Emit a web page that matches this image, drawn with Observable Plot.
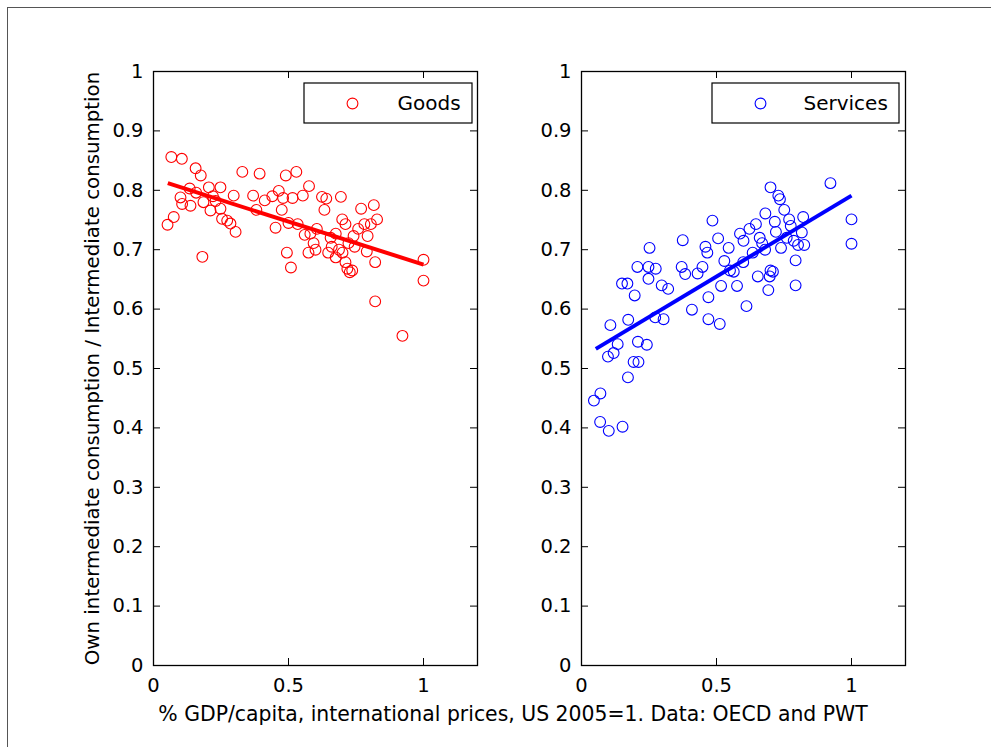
<!DOCTYPE html>
<html><head><meta charset="utf-8">
<script src="https://cdn.jsdelivr.net/npm/d3@7"></script>
<script src="https://cdn.jsdelivr.net/npm/@observablehq/plot@0.6"></script>
<style>
html,body{margin:0;padding:0;background:#fff;overflow:hidden;}
#wrap{position:relative;width:991px;height:747px;overflow:hidden;background:#fff;}
#border{position:absolute;left:7px;top:7px;width:1100px;height:900px;border-left:1.5px solid #555;border-top:1.5px solid #555;pointer-events:none;}
</style></head><body>
<div id="wrap"><div id="chart"></div><div id="border"></div></div>
<script>
const seriesNames = ["Goods", "Services"];
const seriesColors = ["#ff0000", "#0000ff"];
const xTitle = "% GDP/capita, international prices, US 2005=1. Data: OECD and PWT";
const yTitle = "Own intermediate consumption / Intermediate consumption";
const xTicks = [0, 0.5, 1];
const yTicks = [0, 0.1, 0.2, 0.3, 0.4, 0.5, 0.6, 0.7, 0.8, 0.9, 1];

const goodsX = [0.066,0.105,0.156,0.175,0.329,0.393,0.490,0.529,0.075,0.052,0.100,0.106,0.137,0.181,0.205,0.248,0.211,0.248,0.254,0.273,0.285,0.304,0.297,0.158,0.134,0.220,0.185,0.230,0.369,0.381,0.412,0.452,0.475,0.464,0.515,0.553,0.576,0.494,0.509,0.534,0.581,0.574,0.593,0.605,0.624,0.633,0.640,0.647,0.656,0.675,0.675,0.687,0.694,0.699,0.711,0.711,0.718,0.727,0.736,0.722,0.741,0.758,0.769,0.781,0.793,0.805,0.816,0.828,0.821,0.821,0.922,1.000,1.000,0.480,0.440,0.600,0.660,0.700,0.745,0.790,0.560,0.500];
const goodsY = [0.856,0.853,0.837,0.825,0.831,0.828,0.825,0.831,0.755,0.742,0.788,0.777,0.774,0.688,0.805,0.805,0.766,0.769,0.752,0.749,0.744,0.730,0.791,0.796,0.803,0.790,0.780,0.782,0.791,0.767,0.783,0.737,0.767,0.799,0.787,0.791,0.807,0.695,0.670,0.743,0.727,0.695,0.711,0.735,0.789,0.767,0.786,0.695,0.720,0.727,0.687,0.700,0.789,0.751,0.743,0.679,0.668,0.662,0.665,0.711,0.723,0.735,0.769,0.743,0.723,0.743,0.775,0.751,0.679,0.613,0.555,0.683,0.648,0.787,0.790,0.700,0.705,0.695,0.705,0.697,0.725,0.745];

const servicesX = [0.046,0.070,0.069,0.101,0.152,0.172,0.098,0.119,0.134,0.107,0.173,0.150,0.170,0.197,0.207,0.193,0.211,0.209,0.242,0.248,0.252,0.275,0.248,0.297,0.321,0.273,0.304,0.375,0.371,0.384,0.409,0.448,0.459,0.466,0.485,0.470,0.470,0.512,0.506,0.517,0.529,0.545,0.564,0.576,0.587,0.599,0.611,0.622,0.634,0.646,0.653,0.669,0.681,0.692,0.697,0.700,0.709,0.716,0.729,0.739,0.751,0.769,0.786,0.793,0.793,0.802,0.816,0.825,0.821,0.922,1.000,1.000,0.735,0.720,0.660,0.680,0.700,0.550,0.430,0.600,0.775,0.760];
const servicesY = [0.446,0.458,0.410,0.395,0.402,0.485,0.520,0.526,0.541,0.573,0.582,0.643,0.643,0.623,0.671,0.511,0.511,0.545,0.540,0.671,0.703,0.668,0.651,0.640,0.634,0.586,0.583,0.716,0.671,0.659,0.599,0.671,0.705,0.695,0.749,0.620,0.583,0.575,0.719,0.639,0.681,0.703,0.663,0.639,0.727,0.679,0.605,0.735,0.695,0.743,0.655,0.711,0.761,0.632,0.655,0.805,0.663,0.747,0.791,0.703,0.767,0.751,0.715,0.682,0.640,0.708,0.729,0.708,0.755,0.812,0.751,0.710,0.785,0.730,0.720,0.700,0.665,0.665,0.660,0.715,0.740,0.720];

// fitted lines (endpoints)
const goodsFitX = [0.053, 1.0];
const goodsFitY = [0.812, 0.675];
const servicesFitX = [0.053, 1.0];
const servicesFitY = [0.533, 0.791];

const rows = [
  ...goodsX.map((x, i) => ({series: "Goods", x, y: goodsY[i]})),
  ...servicesX.map((x, i) => ({series: "Services", x, y: servicesY[i]}))
];
const fitRows = [
  ...goodsFitX.map((x, i) => ({series: "Goods", x, y: goodsFitY[i]})),
  ...servicesFitX.map((x, i) => ({series: "Services", x, y: servicesFitY[i]}))
];

const chart = Plot.plot({
  width: 991, height: 747,
  marginLeft: 153, marginRight: 86, marginTop: 71, marginBottom: 82,
  style: {fontFamily: "'DejaVu Sans', sans-serif", fontSize: "19.5px", color: "#000", background: "#fff"},
  fx: {domain: seriesNames, paddingInner: 104 / 428, paddingOuter: 0, round: false, axis: null, label: null},
  x: {domain: [0, 1.2]},
  y: {domain: [0, 1]},
  color: {domain: seriesNames, range: seriesColors},
  marks: [
    Plot.tickX(xTicks, {x: d => d, insetTop: 587, stroke: "#000"}),
    Plot.tickX(xTicks, {x: d => d, insetBottom: 587, stroke: "#000"}),
    Plot.tickY(yTicks, {y: d => d, insetRight: 317, stroke: "#000"}),
    Plot.tickY(yTicks, {y: d => d, insetLeft: 317, stroke: "#000"}),
    Plot.dot(rows, {fx: "series", x: "x", y: "y", stroke: "series", fill: "none", r: 5.4, strokeWidth: 1.1}),
    Plot.line(fitRows, {fx: "series", x: "x", y: "y", z: "series", stroke: "series", strokeWidth: 4, strokeLinecap: "butt"}),
    Plot.frame({stroke: "#000", strokeWidth: 1.3}),
    Plot.axisX(xTicks, {tickSize: 0, tickPadding: 13, tickFormat: d => String(d), label: null}),
    Plot.axisY(yTicks, {anchor: "left", facetAnchor: null, tickSize: 0, tickPadding: 10, tickFormat: d => String(d), label: null}),
    // legends
    Plot.rect([{series: "Goods"}], {fx: "series", insetLeft: 151, insetRight: 5, insetTop: 12, insetBottom: 542, fill: "#fff", stroke: "#000", strokeWidth: 1.2}),
    Plot.rect([{series: "Services"}], {fx: "series", insetLeft: 131, insetRight: 6, insetTop: 12, insetBottom: 542, fill: "#fff", stroke: "#000", strokeWidth: 1.2}),
    Plot.dot([{series: "Goods"}], {fx: "series", frameAnchor: "top-right", dx: -125, dy: 32, stroke: "series", fill: "none", r: 5.4, strokeWidth: 1.1}),
    Plot.dot([{series: "Services"}], {fx: "series", frameAnchor: "top-right", dx: -145, dy: 32, stroke: "series", fill: "none", r: 5.4, strokeWidth: 1.1}),
    Plot.text([{series: "Goods"}], {fx: "series", text: "series", frameAnchor: "top-right", textAnchor: "start", lineAnchor: "middle", dx: -80, dy: 32, fontSize: 20, fill: "#000"}),
    Plot.text([{series: "Services"}], {fx: "series", text: "series", frameAnchor: "top-right", textAnchor: "start", lineAnchor: "middle", dx: -102, dy: 32, fontSize: 20, fill: "#000"}),
    // axis titles
    Plot.text([{series: "Goods", label: yTitle}], {fx: "series", text: "label", frameAnchor: "left", textAnchor: "middle", lineAnchor: "middle", dx: -61, rotate: -90, fontSize: 19.8, fill: "#000"}),
    Plot.text([{series: "Goods", label: xTitle}], {fx: "series", text: "label", frameAnchor: "bottom", textAnchor: "middle", lineAnchor: "top", dx: 197.5, dy: 41, fontSize: 20.4, fill: "#000"})
  ]
});
document.getElementById("chart").appendChild(chart);
</script>
</body></html>
